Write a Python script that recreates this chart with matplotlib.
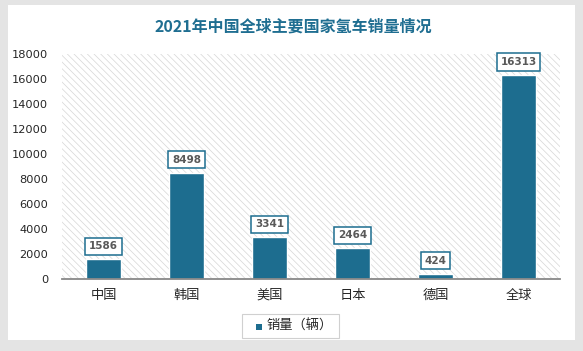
import matplotlib
matplotlib.use("Agg")
import matplotlib.pyplot as plt
from matplotlib.patches import Rectangle
import matplotlib.patheffects as pe

plt.rcParams['font.family'] = ['Noto Sans CJK SC', 'DejaVu Sans']
plt.rcParams['hatch.linewidth'] = 0.55

title = "2021年中国全球主要国家氢车销量情况"
categories = ["中国", "韩国", "美国", "日本", "德国", "全球"]
sales = [1586, 8498, 3341, 2464, 424, 16313]
yticks = [0, 2000, 4000, 6000, 8000, 10000, 12000, 14000, 16000, 18000]
legend_label = "销量（辆）"

W, H = 583, 351
fig = plt.figure(figsize=(W / 100, H / 100), dpi=100)
fig.patch.set_facecolor('#e4e4e4')
# white card
fig.patches.append(Rectangle((8 / W, 1 - 340 / H), (575 - 8) / W, (340 - 5) / H,
                             transform=fig.transFigure, facecolor='white',
                             edgecolor='none', zorder=-5))

ax = fig.add_axes([62 / W, 1 - 279 / H, 498 / W, 225 / H])
ax.set_zorder(1)
ax.set_facecolor('none')
ax.add_patch(Rectangle((0, 0), 1, 1, transform=ax.transAxes, facecolor='white',
                       edgecolor='#d9d9d9', hatch='\\\\\\\\\\', linewidth=0, zorder=0))

bar_color = '#1d6d8f'
x = list(range(len(categories)))
bars = ax.bar(x, sales, width=0.43, color=bar_color, edgecolor='white', linewidth=1.0,
              zorder=2,
              path_effects=[pe.SimplePatchShadow(offset=(0, 0), shadow_rgbFace='#999999', alpha=0.5),
                            pe.Normal()])

for xi, v in zip(x, sales):
    ax.annotate(str(v), (xi, v), xytext=(0, 8), textcoords='offset pixels',
                ha='center', va='bottom', fontsize=7.5, fontweight='bold', color='#595959',
                family='DejaVu Sans', zorder=4,
                bbox=dict(boxstyle='square,pad=0.35', facecolor='white', edgecolor=bar_color,
                          linewidth=1.1))

ax.set_xlim(-0.5, len(categories) - 0.5)
ax.set_ylim(0, 18000)
ax.set_yticks(yticks)
ax.set_yticklabels([str(t) for t in yticks], fontsize=8.2, color='#262626', family='DejaVu Sans')
ax.set_xticks(x)
ax.set_xticklabels(categories, fontsize=9.5, color='#262626')
ax.tick_params(axis='both', length=0)
ax.tick_params(axis='y', pad=10)
ax.tick_params(axis='x', pad=7)
for s in ['top', 'right', 'left']:
    ax.spines[s].set_visible(False)
ax.spines['bottom'].set_color('#888888')
ax.spines['bottom'].set_linewidth(1.3)
ax.spines['bottom'].set_zorder(3)

fig.text(293 / W, 1 - 27 / H, title, ha='center', va='center', fontsize=11.5,
         fontweight='bold', color='#1f6e91')

# legend
fig.patches.append(Rectangle((242 / W, 1 - 338 / H), 97 / W, 24 / H, transform=fig.transFigure,
                             facecolor='white', edgecolor='#d0d0d0', linewidth=0.8, zorder=1))
fig.patches.append(Rectangle((256 / W, 1 - 330 / H), 6 / W, 6 / H, transform=fig.transFigure,
                             facecolor=bar_color, edgecolor='none', zorder=2))
fig.text(266 / W, 1 - 326 / H, legend_label, ha='left', va='center', fontsize=9.5, color='#262626')

fig.savefig('out.png', dpi=100, facecolor=fig.get_facecolor())
